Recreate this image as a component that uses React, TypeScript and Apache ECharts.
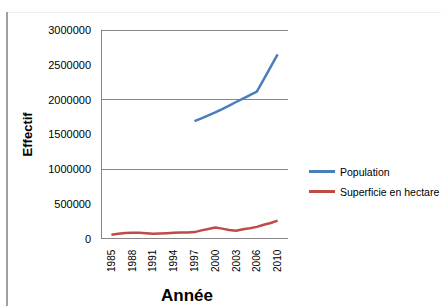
import React, { useEffect, useRef } from "react";
import * as echarts from "echarts";

// Categories (padded with blank bands at both ends, as in the reference)
const categories: string[] = [
  "",
  "1985", "1986", "1987", "1988", "1989", "1990", "1991", "1992", "1993", "1994",
  "1995", "1996", "1997", "1998", "1999", "2000", "2001", "2002", "2003", "2004",
  "2005", "2006", "2007", "2008", "2010",
  "",
];

const population: (number | null)[] = [
  null,
  null, null, null, null, null, null, null, null, null, null,
  null, null, 1690000, 1730000, 1772000, 1815000, 1863000, 1913000, 1965000, 2015000,
  2065000, 2113000, 2290000, 2470000, 2650000,
  null,
];

const superficie: (number | null)[] = [
  null,
  58000, 70000, 82000, 85000, 85000, 80000, 70000, 75000, 80000, 85000,
  88000, 90000, 95000, 120000, 140000, 160000, 145000, 125000, 115000, 135000,
  150000, 170000, 200000, 225000, 260000,
  null,
];

const seriesNames = ["Population", "Superficie en hectare"];
const yMin = 0;
const yMax = 3000000;
const yLabelStep = 500000;
const yGridStep = 1000000;

export default function App() {
  const ref = useRef<HTMLDivElement>(null);
  useEffect(() => {
    if (!ref.current) return;
    const chart = echarts.init(ref.current, undefined, { renderer: "svg" });
    const font = "'Liberation Sans', Arial, sans-serif";
    chart.setOption({
      animation: false,
      backgroundColor: "#ffffff",
      grid: { left: 101, top: 30, right: 153, bottom: 67.3, containLabel: false },
      legend: {
        orient: "vertical",
        left: 304,
        top: 160,
        icon: "rect",
        itemWidth: 26,
        itemHeight: 3,
        itemGap: 7,
        textStyle: { fontFamily: font, fontSize: 10.5, color: "#000", lineHeight: 13 },
        data: seriesNames,
      },
      xAxis: {
        type: "category",
        data: categories,
        boundaryGap: true,
        axisLine: { show: false },
        axisTick: { show: false },
        splitLine: { show: false },
        axisLabel: {
          interval: (index: number) => index % 3 === 1,
          rotate: 90,
          margin: 11,
          fontFamily: font,
          fontSize: 10,
          color: "#000",
        },
      },
      yAxis: [
        {
          type: "value",
          min: yMin,
          max: yMax,
          interval: yLabelStep,
          name: "Effectif",
          nameLocation: "middle",
          nameGap: 67,
          nameTextStyle: { fontFamily: font, fontSize: 13, fontWeight: "bold", color: "#000" },
          axisLine: { show: true, lineStyle: { color: "#868686", width: 1 } },
          axisTick: { show: false },
          splitLine: { show: false },
          axisLabel: {
            margin: 10,
            fontFamily: font,
            fontSize: 11,
            color: "#000",
            formatter: (v: number) => String(v),
          },
        },
        {
          type: "value",
          min: yMin,
          max: yMax,
          interval: yGridStep,
          position: "left",
          axisLine: { show: false },
          axisTick: { show: false },
          axisLabel: { show: false },
          splitLine: { show: true, lineStyle: { color: "#868686", width: 1 } },
        },
      ],
      series: [
        {
          name: seriesNames[0],
          type: "line",
          data: population,
          yAxisIndex: 0,
          showSymbol: false,
          symbol: "none",
          lineStyle: { color: "#4a7ebb", width: 2.5 },
          itemStyle: { color: "#4a7ebb" },
          connectNulls: false,
        },
        {
          name: seriesNames[1],
          type: "line",
          data: superficie,
          yAxisIndex: 0,
          showSymbol: false,
          symbol: "none",
          lineStyle: { color: "#be4b48", width: 2.5 },
          itemStyle: { color: "#be4b48" },
          connectNulls: false,
        },
      ],
      graphic: [
        {
          type: "line",
          shape: { x1: 7, y1: 12, x2: 7, y2: 306 },
          style: { stroke: "#a0a0a0", lineWidth: 2 },
          silent: true,
        },
        {
          type: "line",
          shape: { x1: 8, y1: 12.5, x2: 441, y2: 12.5 },
          style: { stroke: "#eeeeee", lineWidth: 1 },
          silent: true,
        },
        {
          type: "text",
          x: 187,
          y: 287,
          style: {
            text: "Année",
            fontFamily: font,
            fontSize: 17,
            fontWeight: "bold",
            fill: "#000",
            textAlign: "center",
            textVerticalAlign: "top",
          },
          silent: true,
        },
      ],
    });
    return () => chart.dispose();
  }, []);
  return (
    <div
      ref={ref}
      style={{ position: "fixed", left: 0, top: 0, width: 441, height: 306 }}
    />
  );
}
